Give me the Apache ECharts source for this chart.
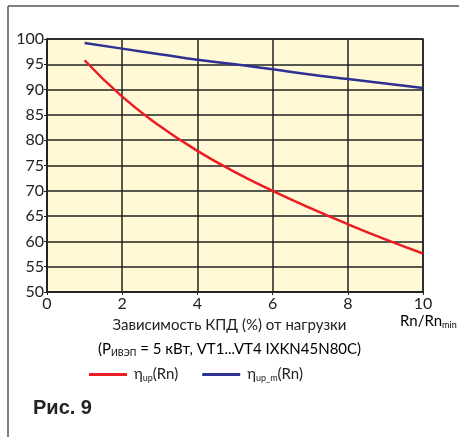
<!DOCTYPE html>
<html><head><meta charset="utf-8">
<script src="https://cdn.jsdelivr.net/npm/echarts@6/dist/echarts.min.js"></script>
<style>html,body{margin:0;padding:0;background:#fff}#c{width:459px;height:437px}</style>
</head><body><div id="c"></div>
<script>
const xValues = [1, 2, 3, 4, 5, 6, 7, 8, 9, 10];
const etaUp = [95.8, 88.6, 82.8, 77.9, 73.7, 70.0, 66.6, 63.4, 60.4, 57.6];
const etaUpM = [99.2, 98.1, 97.0, 95.9, 95.0, 94.0, 93.0, 92.1, 91.2, 90.3];
const seriesNames = ['η_up(Rn)', 'η_up_m(Rn)'];
const xTicks = [0, 2, 4, 6, 8, 10];
const yTicks = [50, 55, 60, 65, 70, 75, 80, 85, 90, 95, 100];

const FONT = 'Lato';
const chart = echarts.init(document.getElementById('c'), null, {renderer: 'canvas'});
const pairs = arr => xValues.map((x, i) => [x, arr[i]]);
const rich = {
  b: {fontFamily: FONT, fontSize: 15, color: '#222'},
  s: {fontFamily: FONT, fontSize: 9, color: '#222', verticalAlign: 'bottom', padding: [8, 0, 0, 0]}
};
chart.setOption({
  animation: false,
  grid: {left: 47, right: 36, top: 39, bottom: 145, show: true, backgroundColor: '#fff9d6', borderColor: '#222', borderWidth: 1.5},
  xAxis: {
    type: 'value', min: xTicks[0], max: xTicks[xTicks.length - 1], interval: 2,
    axisLine: {lineStyle: {color: '#222', width: 1.5}},
    axisTick: {show: true, length: 3, lineStyle: {color: '#222'}},
    splitLine: {show: true, lineStyle: {color: '#222', width: 1.5}},
    axisLabel: {color: '#222', fontFamily: FONT, fontSize: 16, margin: 4}
  },
  yAxis: {
    type: 'value', min: yTicks[0], max: yTicks[yTicks.length - 1], interval: 5,
    axisLine: {show: true, lineStyle: {color: '#222', width: 1.5}},
    axisTick: {show: true, length: 3, lineStyle: {color: '#222'}},
    splitLine: {show: true, lineStyle: {color: '#222', width: 1.5}},
    axisLabel: {color: '#222', fontFamily: FONT, fontSize: 16, margin: 3}
  },
  legend: {
    left: 84, top: 362, itemGap: 24, itemWidth: 38, itemHeight: 3, icon: 'rect',
    data: seriesNames,
    formatter: n => n === seriesNames[0] ? '{b|η}{s|up}{b|(Rn)}' : '{b|η}{s|up_m}{b|(Rn)}',
    textStyle: {rich: rich, padding: [0, 0, 0, 2]}
  },
  series: [
    {name: seriesNames[0], type: 'line', smooth: true, symbol: 'none', data: pairs(etaUp), lineStyle: {color: '#ec1c24', width: 2.5}, itemStyle: {color: '#ec1c24'}},
    {name: seriesNames[1], type: 'line', smooth: true, symbol: 'none', data: pairs(etaUpM), lineStyle: {color: '#2e3192', width: 2.5}, itemStyle: {color: '#2e3192'}}
  ],
  graphic: [
    {type: 'line', shape: {x1: 8, y1: 6, x2: 459, y2: 6}, style: {stroke: '#555', lineWidth: 1.5}},
    {type: 'line', shape: {x1: 8, y1: 6, x2: 8, y2: 437}, style: {stroke: '#555', lineWidth: 1.5}},
    {type: 'text', left: 400, top: 314, style: {text: '{b|Rn/Rn}{s|min}', rich: rich}},
    {type: 'text', left: 'center', top: 318, style: {text: 'Зависимость КПД (%) от нагрузки', fontFamily: FONT, fontSize: 15, fill: '#222'}},
    {type: 'text', left: 'center', top: 342, style: {text: '{b|(P}{s|ИВЭП}{b| = 5 кВт, VT1...VT4 IXKN45N80C)}', rich: rich}},
    {type: 'text', left: 33, top: 398, style: {text: 'Рис. 9', fontFamily: 'Liberation Sans', fontWeight: 'bold', fontSize: 20, fill: '#222'}}
  ]
});
</script></body></html>
